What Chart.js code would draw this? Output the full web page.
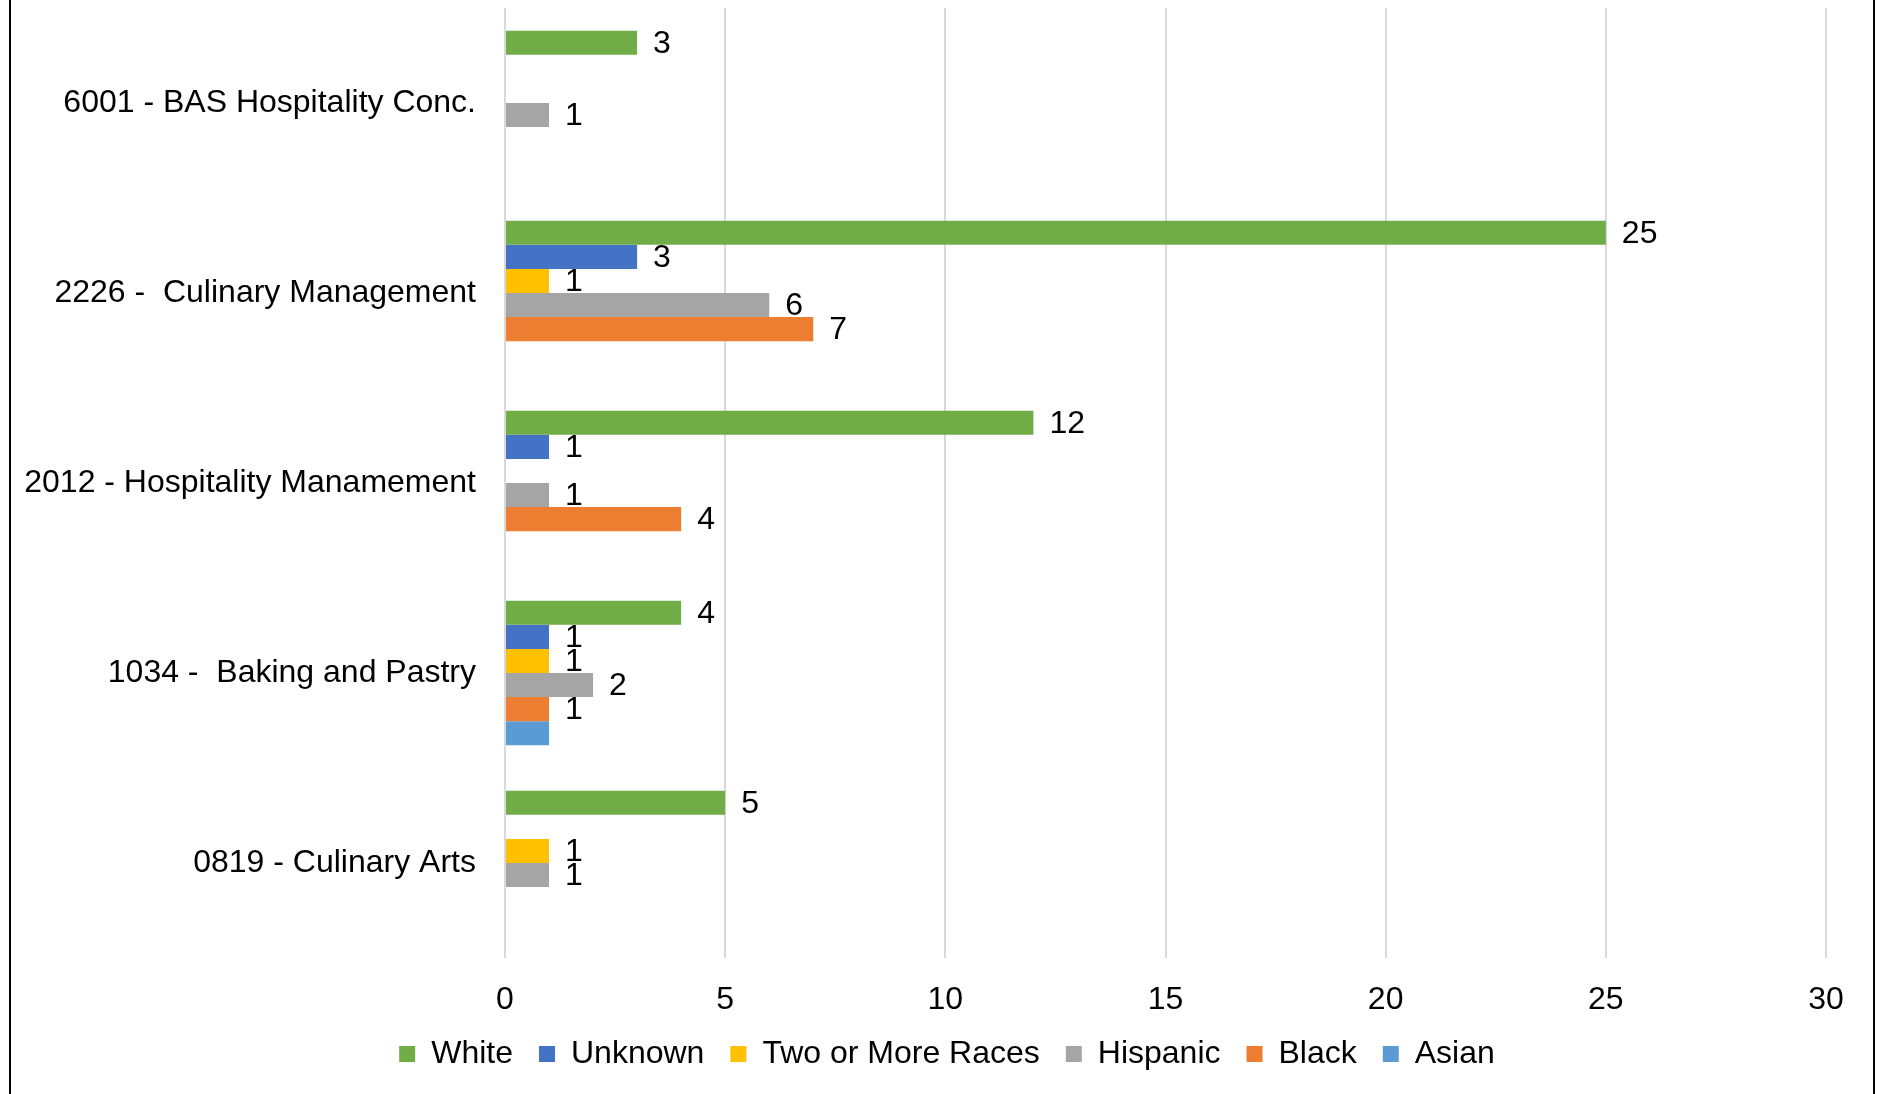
<!DOCTYPE html>
<html>
<head>
<meta charset="utf-8">
<script src="https://cdn.jsdelivr.net/npm/chart.js@4/dist/chart.umd.min.js"></script>
<style>
  html, body { margin: 0; padding: 0; background: #fff; }
  canvas { display: block; }
</style>
</head>
<body>
<canvas id="chart" width="1877" height="1094"></canvas>
<script>
// programs, top to bottom
const programs = [
  '6001 - BAS Hospitality Conc.',
  '2226 -  Culinary Management',
  '2012 - Hospitality Manamement',
  '1034 -  Baking and Pastry',
  '0819 - Culinary Arts'
];

const white    = [3, 25, 12, 4, 5];
const unknown  = [null, 3, 1, 1, null];
const twoOrMore = [null, 1, null, 1, 1];
const hispanic = [1, 6, 1, 2, 1];
const black    = [null, 7, 4, 1, null];
const asian    = [null, null, null, 1, null];

const xTicks = [0, 5, 10, 15, 20, 25, 30];

const FONT = '"Liberation Sans", Arial, sans-serif';

// value labels next to each bar (no datalabels plugin available offline)
const barValueLabels = {
  id: 'barValueLabels',
  afterDatasetsDraw(chart) {
    const ctx = chart.ctx;
    ctx.save();
    ctx.font = '32px ' + FONT;
    ctx.fillStyle = '#000';
    ctx.textAlign = 'left';
    ctx.textBaseline = 'middle';
    chart.data.datasets.forEach((ds, i) => {
      if (ds.hideValues) return;
      chart.getDatasetMeta(i).data.forEach((bar, j) => {
        const v = ds.data[j];
        if (v == null) return;
        ctx.fillText(String(v), bar.x + 16, bar.y + 1);
      });
    });
    ctx.restore();
  }
};

// legend sits centred on the whole picture, not on the padded layout box
const legendShift = {
  id: 'legendShift',
  afterLayout(chart) {
    if (!chart.legend) return;
    chart.legend.left += 28;
    chart.legend.right += 28;
  }
};

// the outline on the left and right of the picture
const sideBorders = {
  id: 'sideBorders',
  afterDraw(chart) {
    const ctx = chart.ctx;
    ctx.save();
    ctx.strokeStyle = '#000';
    ctx.lineWidth = 2;
    ctx.beginPath();
    ctx.moveTo(10, 0); ctx.lineTo(10, chart.height);
    ctx.moveTo(1874, 0); ctx.lineTo(1874, chart.height);
    ctx.stroke();
    ctx.restore();
  }
};

new Chart(document.getElementById('chart'), {
  type: 'bar',
  data: {
    labels: programs,
    datasets: [
      { label: 'White', data: white, backgroundColor: '#70AD47' },
      { label: 'Unknown', data: unknown, backgroundColor: '#4472C4' },
      { label: 'Two or More Races', data: twoOrMore, backgroundColor: '#FFC000' },
      { label: 'Hispanic', data: hispanic, backgroundColor: '#A5A5A5' },
      { label: 'Black', data: black, backgroundColor: '#ED7D31' },
      { label: 'Asian', data: asian, backgroundColor: '#5B9BD5', hideValues: true }
    ]
  },
  options: {
    indexAxis: 'y',
    responsive: false,
    animation: false,
    devicePixelRatio: 1,
    categoryPercentage: 0.76,
    barPercentage: 1,
    layout: { padding: { left: 12, right: 51, top: 8, bottom: 14 } },
    scales: {
      x: {
        min: 0,
        max: 30,
        afterBuildTicks: (axis) => { axis.ticks = xTicks.map(v => ({ value: v })); },
        afterFit: (axis) => { axis.height = 54; },
        grid: { color: '#d9d9d9', lineWidth: 2, drawTicks: false },
        border: { display: false },
        ticks: { color: '#000', padding: 23, font: { family: FONT, size: 32 } }
      },
      y: {
        afterFit: (axis) => {
          axis.width = 493;
          // keep the label padding from pushing the plot down
          axis.paddingTop = 0;
          axis.paddingBottom = 0;
        },
        grid: { display: false },
        border: { display: false },
        ticks: { color: '#000', padding: 21, font: { family: FONT, size: 32 } }
      }
    },
    plugins: {
      legend: {
        position: 'bottom',
        labels: {
          color: '#000',
          boxWidth: 16,
          boxHeight: 16,
          padding: 26,
          font: { family: FONT, size: 32 }
        }
      },
      tooltip: { enabled: false }
    }
  },
  plugins: [barValueLabels, legendShift, sideBorders]
});
</script>
</body>
</html>
